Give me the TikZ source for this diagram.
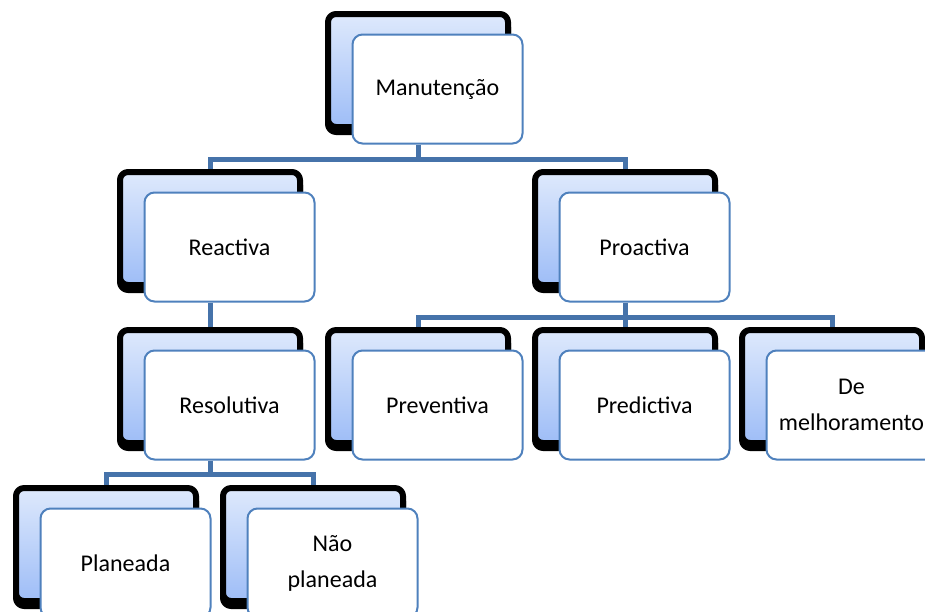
\documentclass[tikz,border=0pt]{standalone}
\usepackage{fontspec}
\setmainfont{Carlito}
\usetikzlibrary{shadows,backgrounds}
\definecolor{cardLine}{RGB}{79,129,189}
\definecolor{backTop}{RGB}{222,233,252}
\definecolor{backBottom}{RGB}{158,189,247}
\definecolor{linkBlue}{RGB}{70,115,170}

\begin{document}
\begin{tikzpicture}[x=0.5pt,y=-0.5pt,line join=round,
  backbox/.style={rectangle,rounded corners=4pt,minimum width=90pt,minimum height=56.5pt,
    top color=backTop,bottom color=backBottom,draw=black,line width=3pt,
    copy shadow={shadow xshift=0pt,shadow yshift=-2.5pt,fill=black,draw=black}},
  frontbox/.style={rectangle,rounded corners=5pt,minimum width=85pt,minimum height=54.5pt,
    fill=white,draw=cardLine,line width=1pt,align=center,inner sep=2pt,
    font=\fontsize{12}{18}\selectfont},
  link/.style={draw=linkBlue,line width=2.5pt}]

% fixed canvas, 925 x 611 px (1px = 0.5pt, y runs downwards)
\path[use as bounding box] (0,0) rectangle (925,611);

% top level
\node[backbox] (manB) at (418,70.5) {};
\node[frontbox] (man) at (437.5,89) {Manutenção};

% second level
\node[backbox] (reacB) at (210,228.5) {};
\node[frontbox] (reac) at (229.5,247) {Reactiva};

\node[backbox] (proaB) at (625,228.5) {};
\node[frontbox] (proa) at (644.5,247) {Proactiva};

% third level
\node[backbox] (resoB) at (210,386.5) {};
\node[frontbox] (reso) at (229.5,405) {Resolutiva};

\node[backbox] (prevB) at (418,386.5) {};
\node[frontbox] (prev) at (437.5,405) {Preventiva};

\node[backbox] (predB) at (625,386.5) {};
\node[frontbox] (pred) at (644.5,405) {Predictiva};

\node[backbox] (melhB) at (832,386.5) {};
\node[frontbox] (melh) at (851.5,405) {De\\melhoramento};

% bottom level
\node[backbox] (planB) at (106,544.5) {};
\node[frontbox] (plan) at (125.5,563) {Planeada};

\node[backbox] (naopB) at (313,544.5) {};
\node[frontbox] (naop) at (332.5,563) {Não\\planeada};

% connectors, kept behind the cards
\begin{scope}[on background layer]
  \coordinate (manJ) at ([yshift=-7.5pt]manB |- man.south);
  \draw[link] (manB |- man.south) -- (manJ) -| (reacB.north);
  \draw[link] (manJ) -| (proaB.north);

  \draw[link] (reacB |- reac.south) -- (resoB.north);

  \coordinate (proaJ) at ([yshift=-7.5pt]proaB |- proa.south);
  \draw[link] (proaB |- proa.south) -- (proaJ) -| (prevB.north);
  \draw[link] (proaJ) -- (predB.north);
  \draw[link] (proaJ) -| (melhB.north);

  \coordinate (resoJ) at ([yshift=-7pt]resoB |- reso.south);
  \draw[link] (resoB |- reso.south) -- (resoJ) -| (planB.north);
  \draw[link] (resoJ) -| (naopB.north);
\end{scope}

\end{tikzpicture}
\end{document}
